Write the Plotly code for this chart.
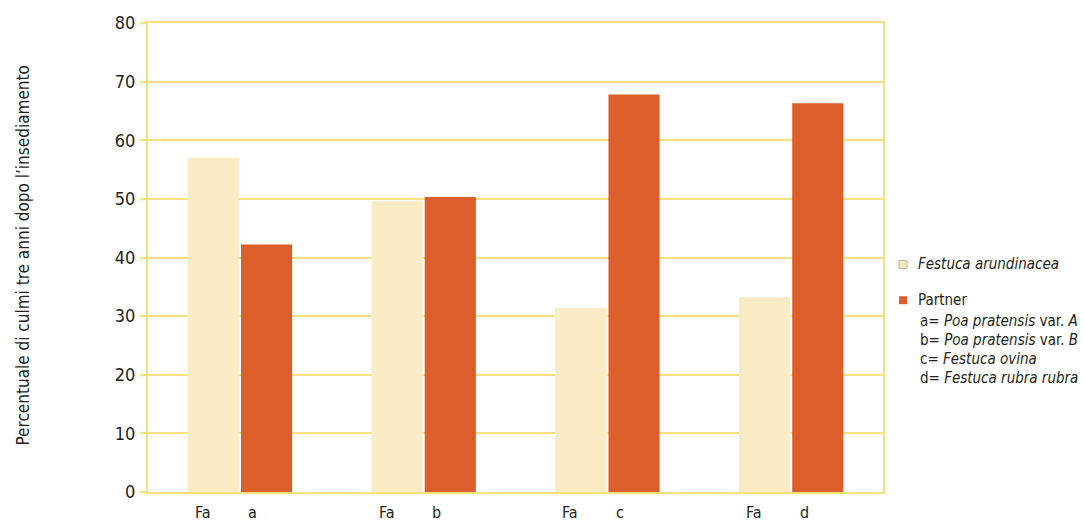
import plotly.graph_objects as go

# Partner species groups and their letter codes
groups = ["a", "b", "c", "d"]
fa_label = "Fa"

# Percentage of tillers three years after establishment
festuca_arundinacea = [57.0, 49.6, 31.4, 33.2]
partner = [42.2, 50.3, 67.8, 66.3]

y_ticks = [0, 10, 20, 30, 40, 50, 60, 70, 80]

legend_lines = [
    "a= <i>Poa pratensis</i> var. <i>A</i>",
    "b= <i>Poa pratensis</i> var. <i>B</i>",
    "c= <i>Festuca ovina</i>",
    "d= <i>Festuca rubra rubra</i>",
]

FONT = "DejaVu Sans Condensed, Liberation Sans Narrow, sans-serif"
PALE = "#FAEBC4"
ORANGE = "#DC5E2A"
YELLOW = "#F3E07E"
TEXT = "#231F20"

W, H = 1084, 522
L, R, T, B = 148, 201, 20, 30
pw, ph = W - L - R, H - T - B


def px_x(x):
    return (x - L) / pw


def px_y(y):
    return (H - B - y) / ph


fig = go.Figure()
fig.add_trace(go.Bar(x=groups, y=festuca_arundinacea, name="Festuca arundinacea",
                     marker=dict(color=PALE, line=dict(width=0))))
fig.add_trace(go.Bar(x=groups, y=partner, name="Partner",
                     marker=dict(color=ORANGE, line=dict(width=0))))

annotations = []
# Bar labels under each pair
for g in groups:
    annotations.append(dict(x=g, y=0, xref="x", yref="y", text=fa_label, showarrow=False,
                            xshift=-37, yshift=-20, font=dict(family=FONT, size=16, color=TEXT)))
    annotations.append(dict(x=g, y=0, xref="x", yref="y", text=g, showarrow=False,
                            xshift=13, yshift=-20, font=dict(family=FONT, size=16, color=TEXT)))

# Vertical axis title
annotations.append(dict(x=px_x(23), y=px_y(254), xref="paper", yref="paper",
                        xanchor="center", yanchor="middle",
                        text="Percentuale di culmi tre anni dopo l\u2019insediamento",
                        textangle=-90, showarrow=False,
                        font=dict(family=FONT, size=17, color=TEXT)))

# Legend entries
legend_font = dict(family=FONT, size=15, color=TEXT)
annotations.append(dict(x=px_x(916), y=px_y(263), xref="paper", yref="paper",
                        xanchor="left", yanchor="middle",
                        text="<i>Festuca arundinacea</i>", showarrow=False, font=legend_font))
annotations.append(dict(x=px_x(916), y=px_y(299), xref="paper", yref="paper",
                        xanchor="left", yanchor="middle",
                        text="Partner", showarrow=False, font=legend_font))
for i, line in enumerate(legend_lines):
    annotations.append(dict(x=px_x(918), y=px_y(320 + i * 19), xref="paper", yref="paper",
                            xanchor="left", yanchor="middle",
                            text=line, showarrow=False, font=legend_font))

shapes = [
    dict(type="rect", xref="paper", yref="paper",
         x0=px_x(899), x1=px_x(907), y0=px_y(267), y1=px_y(259),
         fillcolor=PALE, line=dict(color="#B8B29A", width=1)),
    dict(type="rect", xref="paper", yref="paper",
         x0=px_x(899), x1=px_x(907), y0=px_y(303), y1=px_y(295),
         fillcolor=ORANGE, line=dict(width=0)),
]

fig.update_layout(
    width=W, height=H,
    margin=dict(l=L, r=R, t=T, b=B),
    paper_bgcolor="white", plot_bgcolor="white",
    barmode="group", bargap=0.42, bargroupgap=0.04,
    showlegend=False,
    font=dict(family=FONT, color=TEXT),
    annotations=annotations,
    shapes=shapes,
    xaxis=dict(showticklabels=False, showgrid=False, ticks="",
               showline=True, mirror=True, linecolor=YELLOW, linewidth=2),
    yaxis=dict(range=[0, 80], tickvals=y_ticks, showgrid=True, gridcolor=YELLOW, gridwidth=2,
               zeroline=False, showline=True, mirror=True, linecolor=YELLOW, linewidth=2,
               ticks="outside", ticklen=6, tickcolor=YELLOW, tickwidth=2,
               ticklabelstandoff=1,
               tickfont=dict(family=FONT, size=18, color=TEXT)),
)

fig.write_html("out.html")
